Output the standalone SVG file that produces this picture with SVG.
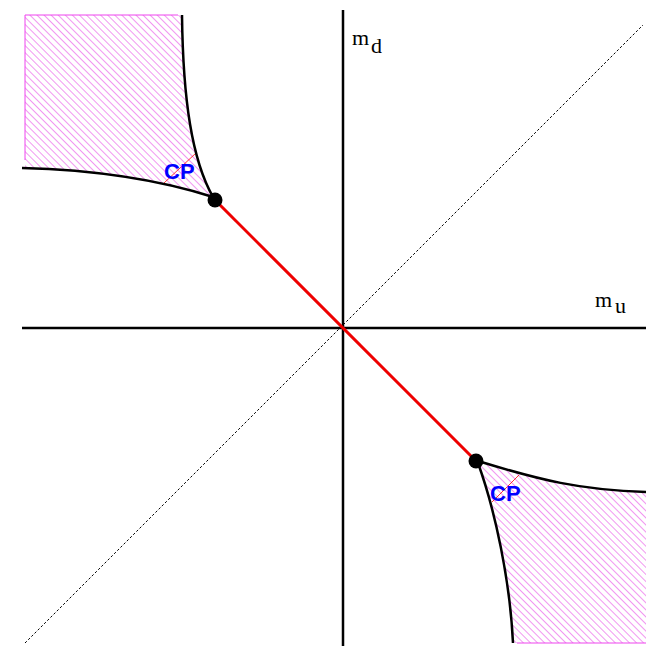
<svg xmlns="http://www.w3.org/2000/svg" width="646" height="646" viewBox="0 0 646 646">
<style>
.axis{stroke:#000;stroke-width:2.5;fill:none}
.bound{stroke:#000;stroke-width:2.5;fill:none}
.cp{font-family:"Liberation Sans",Arial,sans-serif;font-weight:bold;font-size:22px;fill:#0000ff}
.lab{font-family:"Liberation Serif","Times New Roman",serif;font-size:22px;fill:#000}
.edge{stroke:#ee44ee;stroke-width:1;fill:none}
</style>
<defs>
<pattern id="hatch" patternUnits="userSpaceOnUse" width="5" height="5" patternTransform="rotate(-45)">
<line x1="0" y1="0" x2="0" y2="5" stroke="#e850e8" stroke-width="1.2"/>
</pattern>
</defs>
<rect width="646" height="646" fill="#fff"/>
<g id="region-ul">
<path d="M25,15 L182,15 C183,100 192,160 213,197 C160,180 100,170 25,169 Z" fill="url(#hatch)"/>
<path class="edge" d="M25,160 L25,15 L178,15"/>
<line x1="164" y1="183" x2="196" y2="153" stroke="#ff0000" stroke-width="0.8"/>
</g>
<g id="region-br">
<path d="M478,462 C540,480 580,490 646,492 L646,643 L513,643 C510,580 495,510 478,462 Z" fill="url(#hatch)"/>
<path class="edge" d="M517,643 L646,643"/>
<line x1="492" y1="502" x2="519" y2="475" stroke="#ff0000" stroke-width="0.8"/>
</g>
<g id="connectors">
<line class="axis" x1="22" y1="328" x2="646" y2="328"/>
<line class="axis" x1="343" y1="10" x2="343" y2="646"/>
<line x1="25" y1="643" x2="643" y2="25" stroke="#000" stroke-width="1" stroke-dasharray="2.5,2"/>
<line x1="215" y1="200" x2="476" y2="461" stroke="#ee0000" stroke-width="3"/>
<path class="bound" d="M182,15 C183,100 192,160 213,197"/>
<path class="bound" d="M22,168 C100,170 160,180 213,197"/>
<path class="bound" d="M478,461 C540,480 580,490 646,492"/>
<path class="bound" d="M478,463 C495,510 510,580 513,643"/>
</g>
<g id="cp-ul">
<circle cx="215" cy="200" r="7.5" fill="#000"/>
<text class="cp" x="164" y="179">CP</text>
</g>
<g id="cp-br">
<circle cx="476" cy="461" r="7.5" fill="#000"/>
<text class="cp" x="490" y="501">CP</text>
</g>
<g id="label-md">
<text class="lab" x="352" y="45">m</text>
<text class="lab" x="371" y="53">d</text>
</g>
<g id="label-mu">
<text class="lab" x="595" y="307">m</text>
<text class="lab" x="615" y="313">u</text>
</g>
</svg>
